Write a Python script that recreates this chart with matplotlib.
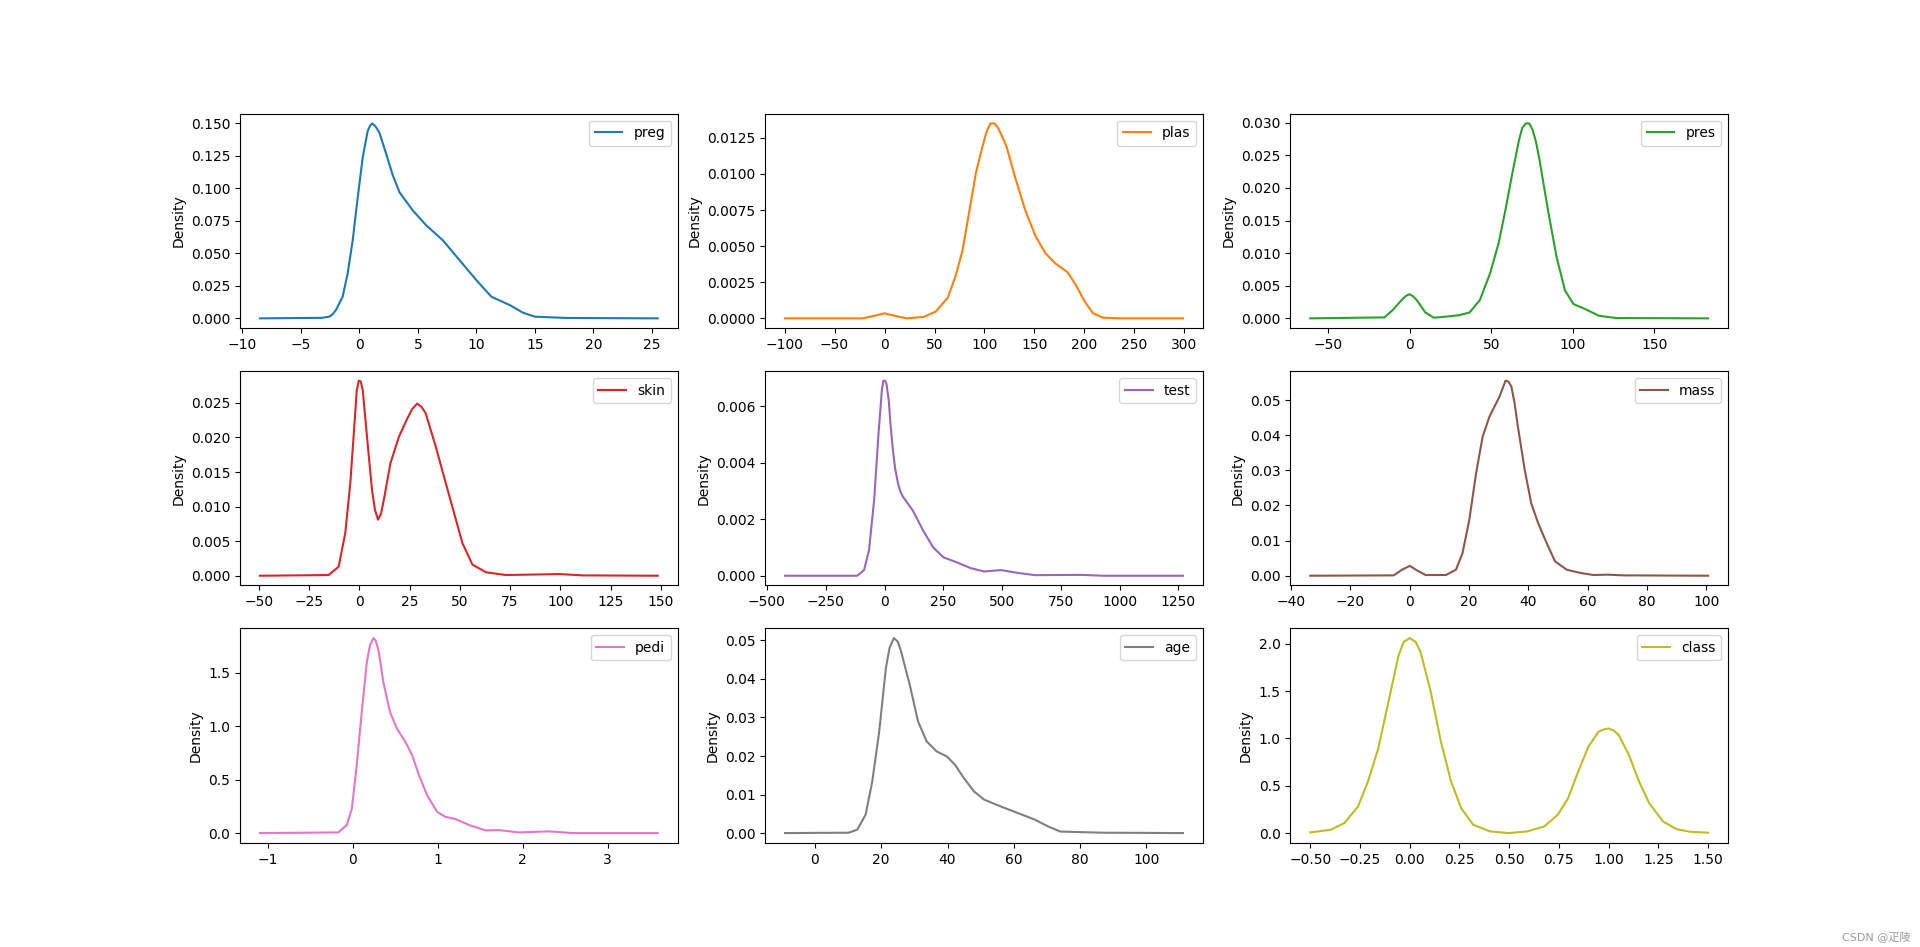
import matplotlib
matplotlib.use("Agg")
import matplotlib.pyplot as plt

plt.rcParams['font.family'] = ['DejaVu Sans', 'Noto Sans CJK SC']

names = ["preg", "plas", "pres", "skin", "test", "mass", "pedi", "age", "class"]
colors = ["#1f77b4", "#ff7f0e", "#2ca02c", "#d62728", "#9467bd",
          "#8c564b", "#e377c2", "#7f7f7f", "#bcbd22"]

# density curves
preg_x = [-8.5, -3.2, -2.57, -2.3, -2.0, -1.43, -1.0, -0.57, -0.14, 0.29, 0.5, 0.71, 0.9, 1.09,
          1.35, 1.71, 2.29, 2.86, 3.43, 4.57, 5.71, 7.14, 8.57, 10.0, 11.29, 12.86, 14.0, 15.0,
          17.7, 25.5]
preg_y = [0.0, 0.0004, 0.0013, 0.003, 0.0064, 0.0166, 0.0345, 0.060, 0.093, 0.124, 0.134, 0.144,
          0.148, 0.150, 0.148, 0.143, 0.1266, 0.110, 0.097, 0.083, 0.0716, 0.060, 0.0447, 0.0294,
          0.0166, 0.0102, 0.0043, 0.0013, 0.0003, 0.0]

plas_x = [-99.5, -22, -10, 0, 10, 22, 39, 51, 63, 71, 78, 85, 91.5, 98, 102, 106, 110, 113.5,
          117, 122, 130.5, 140.7, 151, 161, 171, 183, 191.5, 200, 208.5, 218.6, 235.6, 298.5]
plas_y = [0.0, 0.0, 0.00018, 0.00035, 0.00018, 0.0, 0.0001, 0.00046, 0.0014, 0.0029, 0.0047,
          0.0075, 0.0101, 0.0119, 0.0129, 0.0135, 0.0135, 0.0132, 0.0127, 0.0119, 0.0098, 0.0075,
          0.0057, 0.0045, 0.0038, 0.0032, 0.0023, 0.0012, 0.00035, 0.00005, 0.0, 0.0]

pres_x = [-61, -15.5, -10.3, -5, -2.5, -0.3, 2, 4.3, 9.6, 14.8, 22, 30.5, 36.7, 43, 49.3, 54.5,
          58.7, 62.9, 67, 69, 71.2, 73.3, 75.4, 77.5, 79.6, 84.8, 90, 95.2, 100.4, 107.8, 116,
          126.6, 183]
pres_y = [0.0, 0.00015, 0.0013, 0.0028, 0.0034, 0.0037, 0.0034, 0.0028, 0.0009, 0.0001, 0.00026,
          0.0005, 0.0009, 0.0028, 0.0069, 0.0115, 0.0166, 0.0222, 0.0273, 0.0292, 0.0299, 0.0299,
          0.0289, 0.0270, 0.0243, 0.0166, 0.0095, 0.0043, 0.0022, 0.0014, 0.0004, 0.00005, 0.0]

skin_x = [-49.5, -15.3, -10.3, -7, -4.5, -2.3, -1.3, -0.3, 0.7, 1.7, 3.8, 6.3, 7.8, 9.3, 10.8,
          12.2, 15.5, 19.7, 23.8, 26.3, 28.8, 31, 33, 38, 43, 47.2, 51.3, 56.3, 63, 73, 99.7,
          111, 148.5]
skin_y = [0.0, 0.0001, 0.0013, 0.0062, 0.0134, 0.0225, 0.0268, 0.0282, 0.0281, 0.0268, 0.0201,
          0.0124, 0.0095, 0.0081, 0.0090, 0.011, 0.0163, 0.0201, 0.0227, 0.0241, 0.0249, 0.0244,
          0.0235, 0.0187, 0.0134, 0.009, 0.0047, 0.0016, 0.0005, 0.0001, 0.00024, 0.00005, 0.0]

test_x = [-423, -116, -87, -66, -44, -25, -11, -5, 2, 8, 18, 26, 35, 45, 56.5, 66, 78, 121, 164,
          207, 250.6, 308, 366, 423, 495, 567, 639, 840, 926, 1269]
test_y = [0.0, 0.0, 0.0002, 0.0009, 0.0027, 0.0051, 0.0066, 0.0069, 0.0069, 0.0068, 0.0062,
          0.0053, 0.0045, 0.0038, 0.0033, 0.0030, 0.0028, 0.0023, 0.0016, 0.0010, 0.00065,
          0.00047, 0.00027, 0.00015, 0.0002, 0.0001, 0.00002, 0.00003, 0.0, 0.0]

mass_x = [-33.55, -5.4, -2.6, 0, 2.5, 5.35, 12.2, 15.6, 17.8, 20.1, 22.4, 24.6, 26.9, 30.3, 32.3,
          33.3, 34.3, 35.4, 36.5, 38.8, 41, 43.3, 46.2, 49, 53, 57.5, 62, 66.6, 72.2, 100.65]
mass_y = [0.0, 0.0001, 0.0017, 0.0028, 0.0015, 0.0002, 0.0002, 0.0017, 0.0064, 0.0159, 0.0292,
          0.0396, 0.0453, 0.051, 0.0555, 0.0553, 0.0538, 0.0490, 0.0424, 0.0301, 0.0206, 0.015,
          0.0093, 0.0041, 0.0017, 0.0008, 0.0002, 0.0003, 0.0001, 0.0]

pedi_x = [-1.093, -0.17, -0.07, -0.01, 0.047, 0.106, 0.166, 0.205, 0.244, 0.27, 0.30, 0.33, 0.36,
          0.44, 0.52, 0.62, 0.70, 0.78, 0.875, 0.993, 1.09, 1.21, 1.37, 1.565, 1.72, 1.96, 2.31,
          2.59, 3.591]
pedi_y = [0.0, 0.006, 0.075, 0.23, 0.635, 1.13, 1.6, 1.76, 1.823, 1.80, 1.72, 1.58, 1.41, 1.13,
          0.977, 0.853, 0.728, 0.541, 0.355, 0.199, 0.152, 0.131, 0.075, 0.025, 0.028, 0.006,
          0.016, 0.0, 0.0]

age_x = [-9, 10.2, 12.8, 15.3, 17.3, 19.4, 21.4, 22.5, 23.8, 25, 26, 28.6, 31.1, 33.7, 36.7,
         39.8, 42.3, 44.9, 48, 51, 56.1, 61.2, 66.3, 70.4, 74, 79.6, 86.7, 111]
age_y = [0.0, 0.0001, 0.0009, 0.0048, 0.0134, 0.0264, 0.0428, 0.048, 0.0506, 0.0497, 0.0471,
         0.0385, 0.029, 0.0238, 0.0212, 0.0199, 0.0177, 0.0143, 0.0108, 0.0087, 0.0069, 0.0052,
         0.0035, 0.0017, 0.0004, 0.00026, 0.0001, 0.0]

class_x = [-0.5, -0.397, -0.329, -0.26, -0.21, -0.158, -0.107, -0.056, -0.03, 0.0, 0.03, 0.055,
           0.106, 0.157, 0.208, 0.259, 0.319, 0.404, 0.497, 0.591, 0.676, 0.744, 0.796, 0.847,
           0.898, 0.949, 0.975, 1.0, 1.025, 1.051, 1.102, 1.153, 1.204, 1.273, 1.341, 1.409, 1.5]
class_y = [0.007, 0.035, 0.105, 0.28, 0.544, 0.895, 1.386, 1.877, 2.02, 2.06, 2.02, 1.91, 1.49,
           0.965, 0.544, 0.263, 0.088, 0.018, 0.0, 0.018, 0.07, 0.193, 0.368, 0.649, 0.912, 1.07,
           1.095, 1.105, 1.085, 1.035, 0.825, 0.544, 0.316, 0.123, 0.042, 0.014, 0.004]

curves = [(preg_x, preg_y), (plas_x, plas_y), (pres_x, pres_y),
          (skin_x, skin_y), (test_x, test_y), (mass_x, mass_y),
          (pedi_x, pedi_y), (age_x, age_y), (class_x, class_y)]

fig, axes = plt.subplots(3, 3, figsize=(19.2, 9.47), dpi=100)

for ax, name, color, (xs, ys) in zip(axes.flat, names, colors, curves):
    ax.plot(xs, ys, color=color, label=name, linewidth=1.5)
    ax.set_ylabel("Density")
    ax.legend(loc="upper right")

fig.text(0.995, 0.005, "CSDN @疋陵", ha="right", va="bottom", fontsize=8, color="#999999")

fig.savefig("out.png", dpi=100)
